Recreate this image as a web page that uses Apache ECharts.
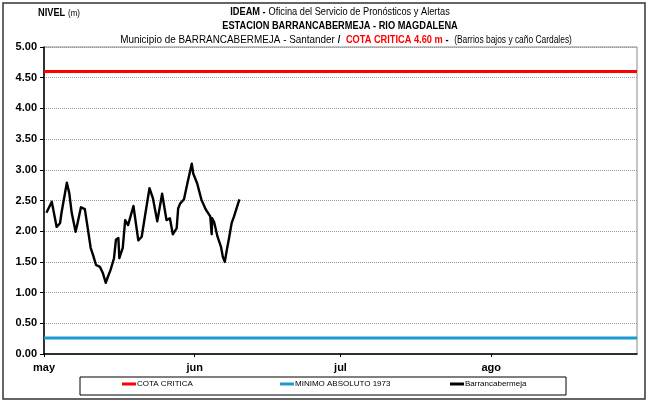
<!DOCTYPE html>
<html lang="es">
<head>
  <meta charset="UTF-8">
  <title>Barrancabermeja</title>
  <style>
    html, body { margin: 0; padding: 0; background: #fff; }
    #main { width: 648px; height: 403px; }
  </style>
</head>
<body>
  <div id="main"></div>
  <script src="https://cdn.jsdelivr.net/npm/echarts@6/dist/echarts.min.js"></script>
  <script>
    // dias contados desde el 1 de mayo
    var monthStarts = [0, 31, 61, 92];
    var monthLabels = ['may', 'jun', 'jul', 'ago'];
    var dayMax = 122;

    var cotaCritica = 4.6;
    var minimoAbsoluto = 0.26;

    var levelDays = [0.5, 1.6, 2.6, 3.3, 3.6, 4.7, 5.2, 5.7, 6.5, 6.9, 7.6, 8.4, 9.0, 9.6, 10.1, 10.7,
      11.5, 12.1, 12.7, 13.2, 13.7, 14.4, 14.8, 15.3, 15.5, 16.2, 16.7, 17.3, 18.4, 19.4, 20.1, 20.8,
      21.7, 22.4, 23.3, 24.3, 25.2, 25.9, 26.5, 27.3, 27.6, 28.0, 28.8, 29.5, 30.4, 30.7, 31.1, 31.5,
      32.4, 33.3, 34.2, 34.5, 34.6, 35.0, 35.7, 36.4, 36.8, 37.2, 37.6, 38.1, 38.6, 39.1, 39.3, 40.2];
    var levelValues = [2.30, 2.48, 2.07, 2.13, 2.30, 2.79, 2.62, 2.30, 1.99, 2.13, 2.39, 2.36, 2.05, 1.73, 1.61, 1.45,
      1.42, 1.32, 1.16, 1.27, 1.37, 1.56, 1.86, 1.89, 1.56, 1.73, 2.18, 2.10, 2.41, 1.85, 1.91, 2.26,
      2.70, 2.54, 2.16, 2.61, 2.18, 2.21, 1.95, 2.05, 2.37, 2.45, 2.52, 2.78, 3.10, 2.94, 2.93, 2.78,
      2.51, 2.35, 2.24, 1.95, 2.21, 2.15, 1.91, 1.75, 1.58, 1.50, 1.69, 1.90, 2.13, 2.24, 2.21, 2.52];

    var font = '"Liberation Sans", Arial, sans-serif';
    var narrow = 0.84; // no hay Arial Narrow: se comprime el texto

    var levelData = levelDays.map(function (d, i) { return [d, levelValues[i]]; });

    var rich = {
      b: { fontFamily: font, fontSize: 11, fontWeight: 'bold', fill: '#000', lineHeight: 14 },
      n: { fontFamily: font, fontSize: 11, fontWeight: 'normal', fill: '#000', lineHeight: 14 },
      m: { fontFamily: font, fontSize: 11.8, fontWeight: 'normal', fill: '#000', lineHeight: 14 },
      r: { fontFamily: font, fontSize: 11, fontWeight: 'bold', fill: '#ff0000', lineHeight: 14 },
      s: { fontFamily: font, fontSize: 10, fontWeight: 'normal', fill: '#000', lineHeight: 14 },
      u: { fontFamily: font, fontSize: 9.5, fontWeight: 'normal', fill: '#000', lineHeight: 14 }
    };

    var myChart = echarts.init(document.getElementById('main'));

    var option = {
      backgroundColor: '#fff',
      animation: false,
      textStyle: { fontFamily: font },
      graphic: [{
        type: 'rect',
        shape: { x: 3, y: 3, width: 642, height: 396 },
        style: { fill: 'none', stroke: '#333', lineWidth: 1.5 },
        silent: true
      }, {
        type: 'rect',
        shape: { x: 80, y: 377, width: 486, height: 18 },
        style: { fill: 'none', stroke: '#000', lineWidth: 1 },
        silent: true
      }, {
        type: 'text',
        x: 38, y: 6, scaleX: narrow,
        style: { text: '{b|NIVEL} {u|(m)}', rich: rich, align: 'left', verticalAlign: 'top' }
      }, {
        type: 'text',
        x: 340, y: 5, scaleX: narrow,
        style: {
          text: '{b|IDEAM -} {n|Oficina del Servicio de Pronósticos y Alertas}\n' +
            '{b|ESTACION BARRANCABERMEJA - RIO MAGDALENA}',
          rich: rich, align: 'center', verticalAlign: 'top'
        }
      }, {
        type: 'text',
        x: 346, y: 33, scaleX: narrow,
        style: {
          text: '{m|Municipio de BARRANCABERMEJA - Santander} {b|/}  {r|COTA CRITICA 4.60 m} {b|-}  {s|(Barrios bajos y caño Cardales)}',
          rich: rich, align: 'center', verticalAlign: 'top'
        }
      }],
      legend: [{
        data: ['COTA CRITICA'], left: 122, top: 380
      }, {
        data: ['MINIMO ABSOLUTO 1973'], left: 280, top: 380
      }, {
        data: ['Barrancabermeja'], left: 450, top: 380
      }].map(function (l) {
        l.icon = 'rect';
        l.itemWidth = 14;
        l.itemHeight = 3;
        l.padding = 0;
        l.textStyle = { fontFamily: font, fontSize: 8, color: '#000', padding: [0, 0, 0, -4] };
        return l;
      }),
      grid: {
        left: 44, right: 11, top: 47, bottom: 49,
        show: true, borderColor: '#888', borderWidth: 1
      },
      xAxis: {
        type: 'value',
        min: 0, max: dayMax,
        axisLine: { show: true, lineStyle: { color: '#000', width: 1.5 } },
        axisTick: { show: true, length: 3, customValues: monthStarts, lineStyle: { color: '#000' } },
        axisLabel: {
          customValues: monthStarts,
          margin: 8,
          fontFamily: font, fontSize: 11, fontWeight: 'bold', color: '#000',
          formatter: function (v) { return monthLabels[monthStarts.indexOf(v)] || ''; }
        },
        splitLine: { show: false }
      },
      yAxis: {
        type: 'value',
        min: 0, max: 5, interval: 0.5,
        axisLine: { show: true, lineStyle: { color: '#000', width: 1.5 } },
        axisTick: { show: true, length: 4, lineStyle: { color: '#000' } },
        axisLabel: {
          margin: 7,
          fontFamily: font, fontSize: 11, fontWeight: 'bold', color: '#000',
          formatter: function (v) { return v.toFixed(2); }
        },
        splitLine: { show: true, lineStyle: { color: '#999', type: 'dotted', width: 1 } }
      },
      series: [{
        name: 'COTA CRITICA',
        type: 'line',
        symbol: 'none',
        color: '#ff0000',
        lineStyle: { width: 3, color: '#ff0000' },
        data: [[0, cotaCritica], [dayMax, cotaCritica]]
      }, {
        name: 'MINIMO ABSOLUTO 1973',
        type: 'line',
        symbol: 'none',
        color: '#1b9ad2',
        lineStyle: { width: 3, color: '#1b9ad2' },
        data: [[0, minimoAbsoluto], [dayMax, minimoAbsoluto]]
      }, {
        name: 'Barrancabermeja',
        type: 'line',
        symbol: 'none',
        color: '#000',
        lineStyle: { width: 2.4, color: '#000', join: 'round' },
        data: levelData
      }]
    };

    myChart.setOption(option);
  </script>
</body>
</html>
